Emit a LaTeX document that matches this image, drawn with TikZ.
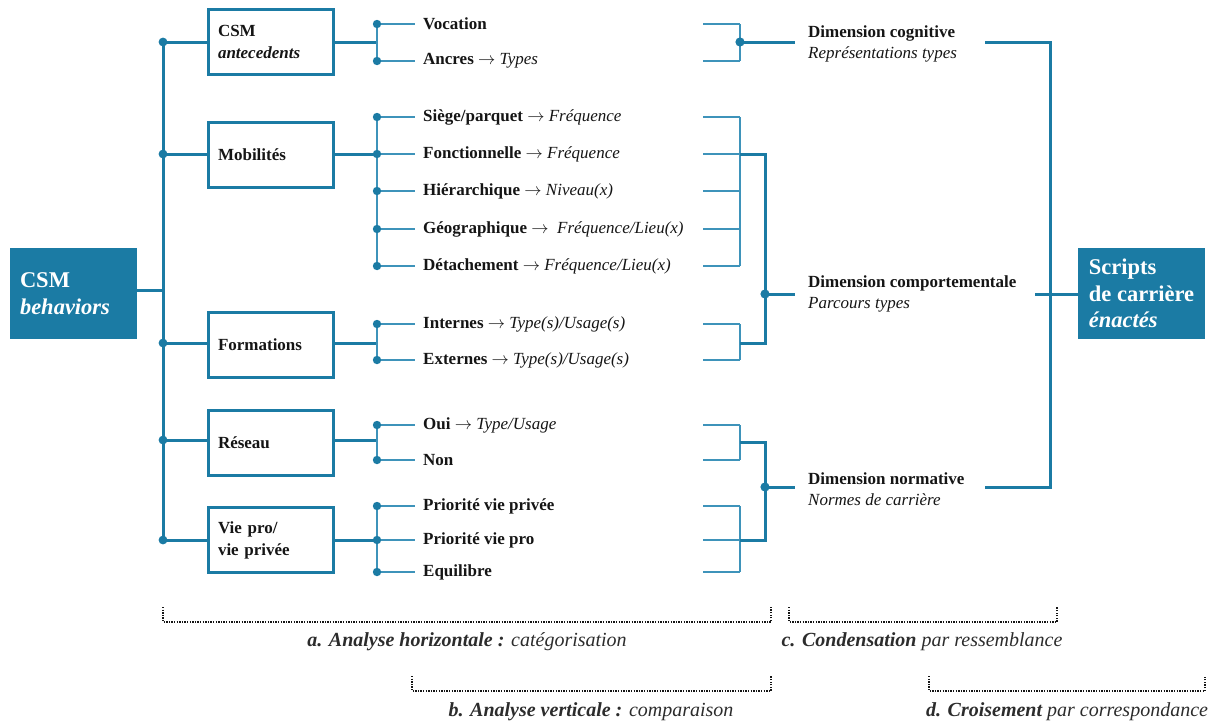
\documentclass[tikz,border=0pt]{standalone}
\usepackage{fontspec}
\setmainfont{Liberation Serif}
\definecolor{blu}{HTML}{1B7BA4}
\definecolor{blul}{HTML}{3E93BA}
\definecolor{ink}{HTML}{151515}
\newcommand{\rarr}{\ensuremath{\rightarrow}}
\begin{document}
\begin{tikzpicture}[x=1pt,y=-1pt,
  thickl/.style={draw=blu,line width=3pt},
  thinl/.style={draw=blul,line width=1.6pt},
  jdot/.style={fill=blu},
  bigbox/.style={fill=blu,text=white,font=\bfseries\fontsize{22.5}{26.5}\selectfont,
    minimum width=127pt,minimum height=91pt,inner xsep=0pt,align=left},
  begbox/.style={bigbox,text width=107pt,inner xsep=10pt},
  catbox/.style={draw=blu,line width=3pt,font=\bfseries\fontsize{17}{22}\selectfont,text=ink,
    minimum width=125pt,minimum height=65pt,text width=105pt,inner xsep=10pt,align=left},
  item/.style={anchor=west,inner sep=0pt,font=\bfseries\fontsize{17}{19}\selectfont,text=ink},
  dimtxt/.style={anchor=west,inner sep=0pt,align=left,font=\fontsize{17}{21}\selectfont,text=ink},
  dotb/.style={draw=ink,line width=2pt,dash pattern=on 1.3pt off 1.3pt},
  lab/.style={font=\itshape\fontsize{20}{24}\selectfont,text=ink!90}
]
\useasboundingbox (0,0) rectangle (1215,724);

% main boxes
\node[begbox] (beh) at (73.5,293.5) {CSM\\\textit{behaviors}};
\node[bigbox] (scr) at (1141.5,293.5) {Scripts\\de carrière\\\textit{énactés}};

\node[catbox] (ant)  at (270.5,42)  {CSM\\\textit{antecedents}};
\node[catbox] (mob)  at (270.5,155) {Mobilités};
\node[catbox] (form) at (270.5,345) {Formations};
\node[catbox] (res)  at (270.5,443) {Réseau};
\node[catbox] (vie)  at (270.5,540) {Vie pro/\\vie privée};

% left spine
\coordinate (sp0) at (163,290);
\coordinate (sp1) at (163,42);
\coordinate (sp2) at (163,154);
\coordinate (sp3) at (163,343);
\coordinate (sp4) at (163,440);
\coordinate (sp5) at (163,540);
\draw[thickl] (beh.east |- sp0) -- (sp0);
\draw[thickl] (sp1) -- (sp5);
\foreach \s/\b in {sp1/ant,sp2/mob,sp3/form,sp4/res,sp5/vie}{
  \draw[thickl] (\s) -- (\b.west |- \s);
  \fill[jdot] (\s) circle (4.4pt);
}

% items
\foreach \n/\y/\t in {
  1/24/{Vocation},
  2/61/{Ancres \rarr\ \textit{\mdseries Types}},
  3/117/{Siège/parquet \rarr\ \textit{\mdseries Fréquence}},
  4/154/{Fonctionnelle \rarr\ \textit{\mdseries Fréquence}},
  5/191/{Hiérarchique \rarr\ \textit{\mdseries Niveau(x)}},
  6/229/{Géographique \rarr\ \ \textit{\mdseries Fréquence/Lieu(x)}},
  7/266/{Détachement \rarr\ \textit{\mdseries Fréquence/Lieu(x)}},
  8/324/{Internes \rarr\ \textit{\mdseries Type(s)/Usage(s)}},
  9/360/{Externes \rarr\ \textit{\mdseries Type(s)/Usage(s)}},
  10/425/{Oui \rarr\ \textit{\mdseries Type/Usage}},
  11/460/{Non},
  12/506/{Priorité vie privée},
  13/540/{Priorité vie pro},
  14/572/{Equilibre}}{
  \node[item] (i\n) at (423,\y) {\t};
  \coordinate (l\n) at (377,\y);
  \coordinate (e\n) at (703,\y);
  \coordinate (r\n) at (740,\y);
  \draw[thinl] (l\n) -- ([xshift=-8pt]i\n.west);
  \draw[thinl] (e\n) -- (r\n);
}

% category to sub-spines
\coordinate (k1) at (377,42);
\coordinate (k2) at (377,154);
\coordinate (k3) at (377,343);
\coordinate (k4) at (377,440);
\coordinate (k5) at (377,540);
\draw[thickl] (ant.east |- k1) -- (k1);
\draw[thickl] (mob.east |- k2) -- (k2);
\draw[thickl] (form.east |- k3) -- (k3);
\draw[thickl] (res.east |- k4) -- (k4);
\draw[thickl] (vie.east |- k5) -- (k5);
\draw[thinl] (l1) -- (l2);
\draw[thinl] (l3) -- (l7);
\draw[thinl] (l8) -- (l9);
\draw[thinl] (l10) -- (l11);
\draw[thinl] (l12) -- (l14);
\foreach \n in {1,...,14}{ \fill[jdot] (l\n) circle (4.2pt); }

% right brackets
\draw[thinl] (r1) -- (r2);
\draw[thinl] (r3) -- (r7);
\draw[thinl] (r8) -- (r9);
\draw[thinl] (r10) -- (r11);
\draw[thinl] (r12) -- (r14);

% dimension nodes
\node[dimtxt] (dc) at (808,44) {\textbf{Dimension cognitive}\\\textit{Représentations types}};
\node[dimtxt] (dp) at (808,294) {\textbf{Dimension comportementale}\\\textit{Parcours types}};
\node[dimtxt] (dn) at (808,489) {\textbf{Dimension normative}\\\textit{Normes de carrière}};

\coordinate (gc) at (740,42);
\draw[thickl] (gc) -- ([xshift=-13pt]dc.west |- gc);
\fill[jdot] (gc) circle (4.6pt);

\coordinate (m1) at (740,154);
\coordinate (m2) at (740,343);
\coordinate (gp) at (765,294);
\draw[thickl] (m1) -| (gp) |- (m2);
\draw[thickl] (gp) -- ([xshift=-13pt]dp.west |- gp);
\fill[jdot] (gp) circle (4.6pt);

\coordinate (n1) at (740,442);
\coordinate (n2) at (740,540);
\coordinate (gn) at (765,487);
\draw[thickl] (n1) -| (gn) |- (n2);
\draw[thickl] (gn) -- ([xshift=-13pt]dn.west |- gn);
\fill[jdot] (gn) circle (4.6pt);

% right collector
\coordinate (oc) at (985,42);
\coordinate (on) at (985,487);
\coordinate (op) at (1035,294);
\coordinate (vx) at (1050,42);
\draw[thickl] (oc) -- (vx) -- (vx |- on) -- (on);
\draw[thickl] (op) -- (scr.west |- op);

% bottom dotted brackets
\draw[dotb] (163,607) -- (163,622) -- (771,622) -- (771,607);
\draw[dotb] (789,607) -- (789,622) -- (1057,622) -- (1057,607);
\draw[dotb] (412,676) -- (412,691) -- (771,691) -- (771,676);
\draw[dotb] (929,676) -- (929,691) -- (1205,691) -- (1205,676);

\node[lab] (la) at (467,642) {\textbf{a. Analyse horizontale :} catégorisation};
\node[lab] (lc) at (922,642) {\textbf{c. Condensation} par ressemblance};
\node[lab] (lb) at (591,712) {\textbf{b. Analyse verticale :} comparaison};
\node[lab] (ld) at (1067,712) {\textbf{d. Croisement} par correspondance};
\end{tikzpicture}
\end{document}
